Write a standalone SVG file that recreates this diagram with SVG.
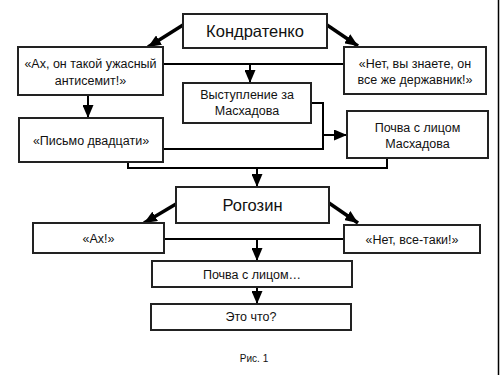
<svg xmlns="http://www.w3.org/2000/svg" width="500" height="375" viewBox="0 0 500 375">
<style>
.box{fill:#fff;stroke:#222;stroke-width:2}
.t{font-family:"Liberation Sans",Arial,sans-serif;font-size:12.5px;fill:#111;text-anchor:middle}
.big{font-size:16.5px}
.c{fill:none;stroke:#000;stroke-width:2}
.d{fill:none;stroke:#000;stroke-width:3.5}
</style>
<defs>
<marker id="ah" markerUnits="userSpaceOnUse" markerWidth="13" markerHeight="11" refX="13" refY="5.5" orient="auto">
<path d="M0,0 L13,5.5 L0,11 z" fill="#000"/>
</marker>
</defs>
<rect width="500" height="375" fill="#fff"/>
<line x1="498.5" y1="0" x2="498.5" y2="375" stroke="#000" stroke-width="1.5"/>
<g id="connectors">
<path class="d" d="M183,25 L148,47" marker-end="url(#ah)"/>
<path class="d" d="M327,25 L358,46" marker-end="url(#ah)"/>
<path class="c" d="M163,64 H344"/>
<path class="c" d="M250,64 V83" marker-end="url(#ah)"/>
<path class="c" d="M88,95 V118" marker-end="url(#ah)"/>
<path class="c" d="M311,103 H323 V149 H163"/>
<path class="c" d="M323,135 H347" marker-end="url(#ah)"/>
<path class="c" d="M128,162 V168 H387 V158"/>
<path class="c" d="M257,168 V187" marker-end="url(#ah)"/>
<path class="d" d="M176,204 L144,223" marker-end="url(#ah)"/>
<path class="d" d="M329,203 L358,223" marker-end="url(#ah)"/>
<path class="c" d="M164,239 H344"/>
<path class="c" d="M257,239 V261" marker-end="url(#ah)"/>
<path class="c" d="M257,287 V304" marker-end="url(#ah)"/>
</g>
<g id="kondratenko"><rect class="box" x="183" y="14" width="144" height="34"/><text class="t big" x="255" y="37">Кондратенко</text></g>
<g id="antisemit"><rect class="box" x="18" y="47" width="145" height="48"/><text class="t" x="90.5" y="68">«Ах, он такой ужасный</text><text class="t" x="90.5" y="85">антисемит!»</text></g>
<g id="derzhavnik"><rect class="box" x="344" y="47" width="142" height="47"/><text class="t" x="415" y="68">«Нет, вы знаете, он</text><text class="t" x="415" y="84">все же державник!»</text></g>
<g id="vystuplenie"><rect class="box" x="183" y="83" width="128" height="40"/><text class="t" x="247" y="99">Выступление за</text><text class="t" x="247" y="115">Масхадова</text></g>
<g id="pismo"><rect class="box" x="19" y="118" width="144" height="44"/><text class="t" x="91" y="145">«Письмо двадцати»</text></g>
<g id="pochva-maskhadova"><rect class="box" x="347" y="111" width="141" height="47"/><text class="t" x="417.5" y="132">Почва с лицом</text><text class="t" x="417.5" y="148">Масхадова</text></g>
<g id="rogozin"><rect class="box" x="176" y="187" width="153" height="36"/><text class="t big" x="252.5" y="211">Рогозин</text></g>
<g id="akh"><rect class="box" x="33" y="223" width="131" height="30"/><text class="t" x="98.5" y="243">«Ах!»</text></g>
<g id="net-vse-taki"><rect class="box" x="344" y="225" width="136" height="28"/><text class="t" x="412" y="244">«Нет, все-таки!»</text></g>
<g id="pochva"><rect class="box" x="152" y="261" width="200" height="26"/><text class="t" x="252" y="278.5">Почва с лицом…</text></g>
<g id="eto-chto"><rect class="box" x="151" y="304" width="200" height="26"/><text class="t" x="251" y="321">Это что?</text></g>
<text class="t" x="254" y="362" style="font-size:10px">Рис. 1</text>
</svg>
